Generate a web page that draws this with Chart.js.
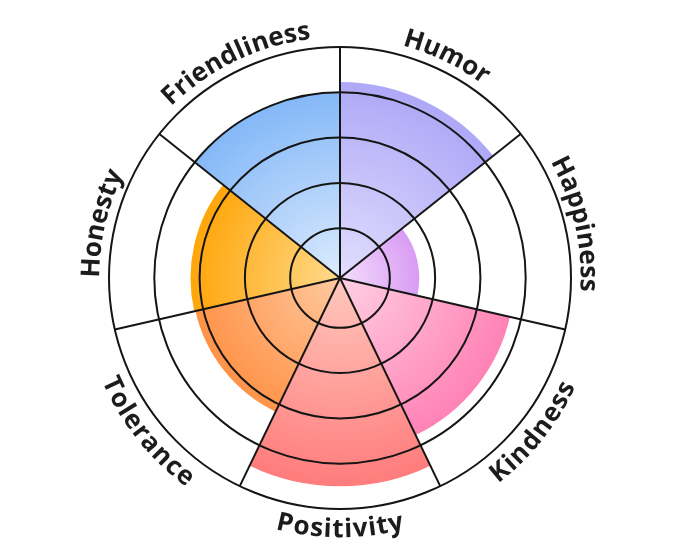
<!DOCTYPE html>
<html>
<head>
<meta charset="utf-8">
<script src="https://cdn.jsdelivr.net/npm/chart.js@4"></script>
<style>
  html, body { margin: 0; padding: 0; background: #fff; }
  #wrap { width: 680px; height: 557px; position: relative; }
</style>
</head>
<body>
<div id="wrap"><canvas id="grafica"></canvas></div>
<script>
// categories, clockwise from the top
const etiquetas = ["Humor", "Happiness", "Kindness", "Positivity", "Tolerance", "Honesty", "Friendliness"];
// one score per category (scale 0-10)
const puntajes = [8.45, 3.3, 7.5, 9.0, 6.35, 6.4, 8.0];
// grid rings
const anillos = [2, 4, 6, 8, 10];

// gradient colours per slice: centre -> edge
const colorCentro = ['#e2defd', '#f4defc', '#ffd0e2', '#ffc8bd', '#ffc9a0', '#ffda8c', '#dcebfe'];
const colorBorde = ['#aea8f7', '#d99cf4', '#ff82b6', '#ff7c7c', '#ff9348', '#ffa60a', '#84b8f7'];

function relleno(ctx) {
    const chart = ctx.chart;
    const i = ctx.dataIndex;
    const r = chart.scales.r;
    if (!chart.chartArea || !r || r.xCenter === undefined) return colorBorde[i];
    const radio = Math.max(1, r.getDistanceFromCenterForValue(puntajes[i]));
    const g = chart.ctx.createRadialGradient(r.xCenter, r.yCenter, 0, r.xCenter, r.yCenter, radio);
    g.addColorStop(0, colorCentro[i]);
    g.addColorStop(1, colorBorde[i]);
    return g;
}

// curved labels around the outer ring
const etiquetasCurvas = {
    id: 'etiquetasCurvas',
    afterDraw(chart) {
        const r = chart.scales.r;
        const c = chart.ctx;
        const cx = r.xCenter, cy = r.yCenter;
        const radioMedio = r.drawingArea + 19;
        const fs = 26;
        const cap = fs * 0.714;
        const extra = 0.6; // a little letter spacing
        c.save();
        c.font = '700 ' + fs + 'px "Open Sans"';
        c.fillStyle = '#1c1c1c';
        c.textAlign = 'center';
        c.textBaseline = 'alphabetic';
        const n = etiquetas.length;
        etiquetas.forEach((txt, i) => {
            const centro = (i + 0.5) * 2 * Math.PI / n;
            const grados = centro * 180 / Math.PI;
            const arriba = grados < 90 || grados > 270;
            const chars = [...txt];
            const ancho = c.measureText(txt).width + extra * (chars.length - 1);
            const span = ancho / radioMedio;
            const base = arriba ? radioMedio - cap / 2 : radioMedio + cap / 2;
            let off = 0;
            for (const ch of chars) {
                const w = c.measureText(ch).width;
                const a = arriba
                    ? centro - span / 2 + (off + w / 2) / radioMedio
                    : centro + span / 2 - (off + w / 2) / radioMedio;
                const x = cx + base * Math.sin(a);
                const y = cy - base * Math.cos(a);
                c.save();
                c.translate(x, y);
                c.rotate(arriba ? a : a + Math.PI);
                c.fillText(ch, 0, 0);
                c.restore();
                off += w + extra;
            }
        });
        c.restore();
    }
};

const $grafica = document.querySelector('#grafica');
new Chart($grafica, {
    type: 'polarArea',
    data: {
        labels: etiquetas,
        datasets: [{
            data: puntajes,
            backgroundColor: relleno,
            borderWidth: 0
        }]
    },
    options: {
        responsive: true,
        maintainAspectRatio: false,
        animation: false,
        layout: { padding: { top: 47, bottom: 47 } },
        plugins: {
            legend: { display: false },
            tooltip: { enabled: false }
        },
        scales: {
            r: {
                z: 1,
                min: -0.2,
                max: 10,
                startAngle: 0,
                afterBuildTicks: (scale) => {
                    scale.ticks = anillos.map(v => ({ value: v }));
                },
                ticks: { display: false },
                pointLabels: { display: false },
                grid: { z: 1, circular: true, color: '#151515', lineWidth: 2 },
                angleLines: { display: true, color: '#151515', lineWidth: 2 }
            }
        }
    },
    plugins: [etiquetasCurvas]
});
</script>
</body>
</html>
